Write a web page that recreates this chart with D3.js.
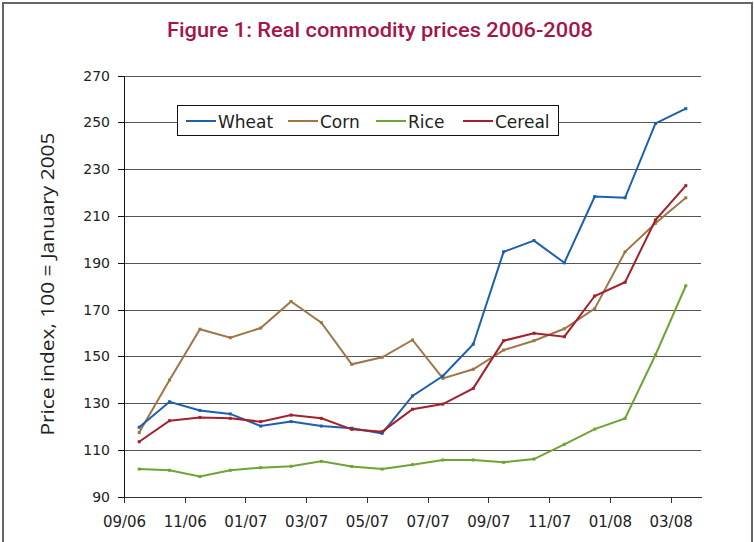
<!DOCTYPE html>
<html>
<head>
<meta charset="utf-8">
<script src="https://cdn.jsdelivr.net/npm/d3@7"></script>
<style>
  body { margin: 0; background: #fff; }
  svg { display: block; }
</style>
</head>
<body>
<div id="chart"></div>
<script>
// data, one point per month, 09/06 .. 03/08
var xLabels = ["09/06", "11/06", "01/07", "03/07", "05/07", "07/07", "09/07", "11/07", "01/08", "03/08"];
var yTicks = [90, 110, 130, 150, 170, 190, 210, 230, 250, 270];

var wheat = [119.7, 130.6, 126.9, 125.4, 120.2, 122.1, 120.2, 119.3, 117.1, 133.1, 141.6, 155.2, 194.7, 199.5, 190.0, 218.3, 217.8, 249.6, 255.9];
var corn = [117.4, 139.9, 161.6, 158.0, 162.1, 173.5, 164.4, 146.6, 149.6, 157.0, 140.6, 144.5, 152.7, 156.7, 161.8, 170.4, 194.7, 206.9, 217.8];
var rice = [101.8, 101.3, 98.6, 101.3, 102.4, 103.0, 105.1, 102.9, 101.8, 103.7, 105.7, 105.7, 104.7, 106.1, 112.4, 118.9, 123.5, 150.6, 180.2];
var cereal = [113.5, 122.5, 123.9, 123.5, 122.1, 124.9, 123.5, 118.8, 117.8, 127.4, 129.6, 136.3, 156.7, 159.9, 158.4, 175.8, 181.7, 208.3, 223.0];

var seriesNames = ["Wheat", "Corn", "Rice", "Cereal"];
var seriesColors = ["#1c5faf", "#9f7648", "#6da534", "#a4202a"];

function draw() {
    var w = 754;
    var h = 542;

    var svg = d3.select("#chart")
        .append("svg")
        .attr("width", w)
        .attr("height", h);

    // outer frame
    svg.append("path")
        .attr("d", "M3,542 V3 H752 V542")
        .attr("fill", "none")
        .attr("stroke", "#666")
        .attr("stroke-width", 2);

    // title
    svg.append("text")
        .attr("x", 380)
        .attr("y", 37)
        .attr("text-anchor", "middle")
        .attr("font-family", "Roboto, sans-serif")
        .attr("font-weight", 500)
        .attr("font-size", "20px")
        .attr("textLength", 426)
        .attr("lengthAdjust", "spacingAndGlyphs")
        .attr("fill", "#a3154b")
        .text("Figure 1: Real commodity prices 2006-2008");

    // scales: one category per month, ticks between every second category
    var x = d3.scaleLinear().domain([-0.5, 18.5]).range([124, 701]);
    var y = d3.scaleLinear().domain([90, 270]).range([496.7, 75.7]);

    // gridlines
    svg.append("g")
        .attr("transform", "translate(124,0)")
        .call(d3.axisLeft(y).tickValues(yTicks.slice(1)).tickSize(-577).tickFormat(""))
        .call(function(g) { g.select(".domain").remove(); })
        .selectAll("line")
        .attr("stroke", "#555")
        .attr("shape-rendering", "crispEdges");

    // y axis
    var yAxis = svg.append("g")
        .attr("transform", "translate(124,0)")
        .call(d3.axisLeft(y).tickValues(yTicks).tickSize(6).tickPadding(8));
    yAxis.select(".domain").attr("stroke", "#111").attr("shape-rendering", "crispEdges");
    yAxis.selectAll("line").attr("stroke", "#111").attr("shape-rendering", "crispEdges");
    yAxis.selectAll("text")
        .attr("font-family", "DejaVu Sans, sans-serif")
        .attr("font-size", "14px")
        .attr("fill", "#222");

    // x axis
    var tickPos = xLabels.map(function(d, i) { return -0.5 + 2 * i; });
    var xAxis = svg.append("g")
        .attr("transform", "translate(0,496.7)")
        .call(d3.axisBottom(x).tickValues(tickPos).tickSizeInner(6).tickSizeOuter(0).tickPadding(14)
            .tickFormat(function(d, i) { return xLabels[i]; }));
    xAxis.select(".domain").attr("stroke", "#333").attr("shape-rendering", "crispEdges");
    xAxis.selectAll("line").attr("stroke", "#333").attr("shape-rendering", "crispEdges");
    xAxis.selectAll("text")
        .attr("font-family", "DejaVu Sans, sans-serif")
        .attr("font-size", "15px")
        .attr("fill", "#222");

    // y axis title
    svg.append("text")
        .attr("transform", "translate(54,284) rotate(-90)")
        .attr("text-anchor", "middle")
        .attr("font-family", "Open Sans, sans-serif")
        .attr("font-size", "19px")
        .attr("textLength", 303)
        .attr("lengthAdjust", "spacingAndGlyphs")
        .attr("fill", "#222")
        .text("Price index, 100 = January 2005");

    // lines
    var all = [wheat, corn, rice, cereal];
    var line = d3.line()
        .x(function(d, i) { return x(i); })
        .y(function(d) { return y(d); });

    // draw back to front: rice, corn, wheat, cereal
    [2, 1, 0, 3].forEach(function(k) {
        svg.append("path")
            .datum(all[k])
            .attr("d", line)
            .attr("fill", "none")
            .attr("stroke", seriesColors[k])
            .attr("stroke-width", 2);
        svg.selectAll(".pt" + k)
            .data(all[k])
            .enter()
            .append("rect")
            .attr("class", "pt" + k)
            .attr("x", function(d, i) { return x(i) - 1.5; })
            .attr("y", function(d) { return y(d) - 1.5; })
            .attr("width", 3)
            .attr("height", 3)
            .attr("fill", seriesColors[k]);
    });

    // legend
    var legend = svg.append("g");
    legend.append("rect")
        .attr("x", 177.5)
        .attr("y", 105.5)
        .attr("width", 381)
        .attr("height", 30)
        .attr("fill", "#fff")
        .attr("stroke", "#111");
    var legendX = [186, 288, 376, 463];
    seriesNames.forEach(function(name, k) {
        legend.append("line")
            .attr("x1", legendX[k])
            .attr("x2", legendX[k] + 30)
            .attr("y1", 121)
            .attr("y2", 121)
            .attr("stroke", seriesColors[k])
            .attr("stroke-width", 2);
        legend.append("text")
            .attr("x", legendX[k] + 32)
            .attr("y", 127.5)
            .attr("font-family", "DejaVu Sans, sans-serif")
            .attr("font-size", "17px")
            .attr("fill", "#222")
            .text(name);
    });
}

window.onload = draw;
</script>
</body>
</html>
